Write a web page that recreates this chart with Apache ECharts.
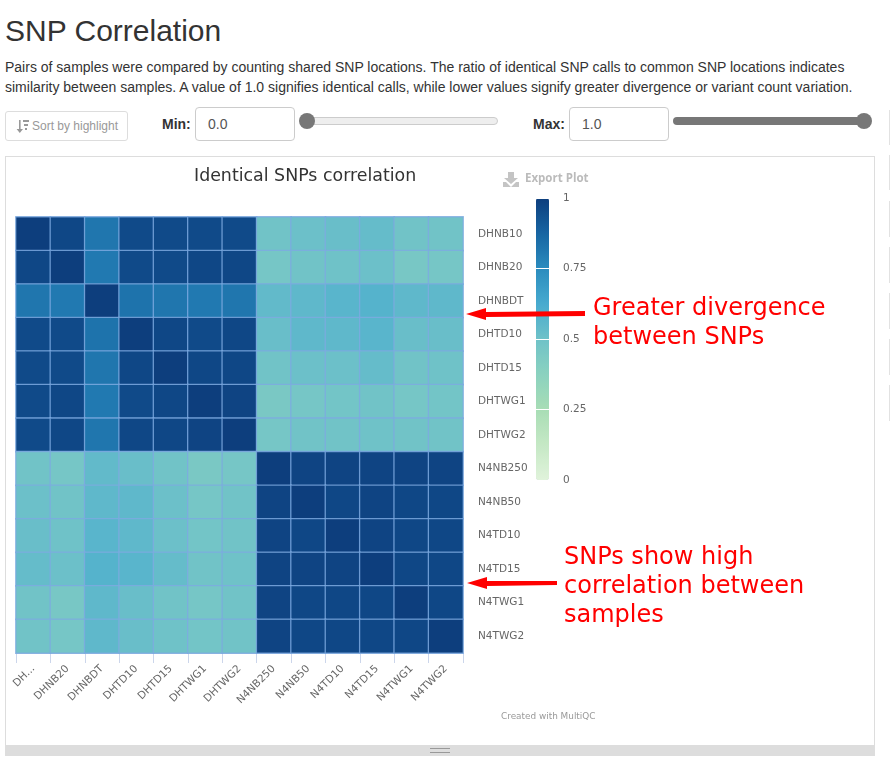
<!DOCTYPE html>
<html>
<head>
<meta charset="utf-8">
<title>SNP Correlation</title>
<script src="https://cdn.jsdelivr.net/npm/echarts@6/dist/echarts.min.js"></script>
<style>
html, body { margin: 0; padding: 0; background: #fff; overflow: hidden; }
body { width: 890px; height: 769px; position: relative; font-family: "Liberation Sans", Arial, sans-serif; color: #333; }
.abs { position: absolute; box-sizing: border-box; }
h1 { position: absolute; left: 5px; top: 13px; margin: 0; font-size: 30px; line-height: 36px; font-weight: 400; }
p { position: absolute; left: 5px; top: 57px; margin: 0; width: 880px; font-size: 14px; line-height: 20px; white-space: nowrap; }
.btn { left: 5px; top: 111px; width: 123px; height: 30px; border: 1px solid #ddd; border-radius: 3px; font-size: 12px; line-height: 28px; color: #999; padding-left: 26px; }
.lbl { top: 112px; font-size: 14px; font-weight: 700; line-height: 24px; }
.inp { top: 107px; width: 100px; height: 34px; border: 1px solid #ccc; border-radius: 4px; font-size: 14px; line-height: 32px; padding-left: 12px; color: #555; }
.track { top: 117px; height: 8px; border-radius: 4px; }
.thumb { top: 113px; width: 16px; height: 16px; border-radius: 8px; background: #777; }
.panel { left: 5px; top: 156px; width: 870px; height: 600px; border: 1px solid #ddd; }
.handle { left: 5px; top: 745px; width: 870px; height: 11px; background: #ddd; }
.edge { left: 889px; width: 1px; background: #e2e2e2; }
#main { position: absolute; left: 0; top: 0; width: 890px; height: 769px; }
</style>
</head>
<body>
<h1>SNP Correlation</h1>
<p>Pairs of samples were compared by counting shared SNP locations. The ratio of identical SNP calls to common SNP locations indicates<br>similarity between samples. A value of 1.0 signifies identical calls, while lower values signify greater divergence or variant count variation.</p>
<div class="abs btn">Sort by highlight
  <svg class="abs" style="left:10px;top:8px" width="13" height="13" viewBox="0 0 13 13"><path d="M3 0h1.6v9H7l-3.2 4L.6 9H3z" fill="#999"/><path d="M7 0h6v2H7zM8 4h4v2H8zM9 8h2v2H9z" fill="#999"/></svg>
</div>
<div class="abs lbl" style="left:162px">Min:</div>
<div class="abs inp" style="left:195px">0.0</div>
<div class="abs track" style="left:300px;width:198px;background:#eee;border:1px solid #ccc"></div>
<div class="abs thumb" style="left:299px"></div>
<div class="abs lbl" style="left:533px">Max:</div>
<div class="abs inp" style="left:569px">1.0</div>
<div class="abs track" style="left:673px;width:190px;background:#777"></div>
<div class="abs thumb" style="left:856px"></div>
<div class="abs panel"></div>
<div class="abs handle">
  <div class="abs" style="left:425px;top:3px;width:20px;height:5px;border-top:1px solid #999;border-bottom:1px solid #999"></div>
</div>
<div class="abs edge" style="top:110px;height:35px"></div>
<div class="abs edge" style="top:155px;height:35px"></div>
<div class="abs edge" style="top:201px;height:36px"></div>
<div class="abs edge" style="top:247px;height:36px"></div>
<div class="abs edge" style="top:293px;height:36px"></div>
<div class="abs edge" style="top:339px;height:36px"></div>
<div class="abs edge" style="top:385px;height:36px"></div>
<div id="main"></div>
<script>
var samples = ['DHNB10', 'DHNB20', 'DHNBDT', 'DHTD10', 'DHTD15', 'DHTWG1', 'DHTWG2',
    'N4NB250', 'N4NB50', 'N4TD10', 'N4TD15', 'N4TWG1', 'N4TWG2'];

// one row per sample
var correlation = [
    [1.00, 0.97, 0.82, 0.96, 0.96, 0.96, 0.96, 0.49, 0.51, 0.52, 0.53, 0.49, 0.49],
    [0.97, 1.00, 0.81, 0.96, 0.96, 0.97, 0.97, 0.47, 0.49, 0.50, 0.51, 0.46, 0.47],
    [0.82, 0.81, 1.00, 0.83, 0.82, 0.81, 0.82, 0.54, 0.55, 0.57, 0.58, 0.55, 0.55],
    [0.96, 0.96, 0.83, 1.00, 0.97, 0.96, 0.97, 0.52, 0.55, 0.55, 0.57, 0.52, 0.52],
    [0.96, 0.96, 0.82, 0.97, 1.00, 0.97, 0.97, 0.49, 0.51, 0.51, 0.53, 0.49, 0.50],
    [0.96, 0.97, 0.81, 0.96, 0.97, 1.00, 0.98, 0.45, 0.47, 0.48, 0.49, 0.47, 0.48],
    [0.96, 0.97, 0.82, 0.97, 0.97, 0.98, 1.00, 0.47, 0.49, 0.49, 0.50, 0.49, 0.49],
    [0.49, 0.47, 0.54, 0.52, 0.49, 0.45, 0.47, 1.00, 0.98, 0.98, 0.98, 0.98, 0.98],
    [0.51, 0.49, 0.55, 0.55, 0.51, 0.47, 0.49, 0.98, 1.00, 0.97, 0.98, 0.97, 0.97],
    [0.52, 0.50, 0.57, 0.55, 0.51, 0.48, 0.49, 0.98, 0.97, 1.00, 0.98, 0.97, 0.97],
    [0.53, 0.51, 0.58, 0.57, 0.53, 0.49, 0.50, 0.98, 0.98, 0.98, 1.00, 0.97, 0.97],
    [0.49, 0.46, 0.55, 0.52, 0.49, 0.47, 0.49, 0.98, 0.97, 0.97, 0.97, 1.00, 0.97],
    [0.49, 0.47, 0.55, 0.52, 0.50, 0.48, 0.49, 0.98, 0.97, 0.97, 0.97, 0.97, 1.00]
];

var scaleColors = ['#e0f3db', '#c5e8c5', '#a8ddb5', '#8bd2bf', '#6fc2c8', '#47aacf', '#2b8cbe', '#1765a2', '#0d3e7d'];

var cells = [];
correlation.forEach(function (row, y) {
    row.forEach(function (v, x) {
        cells.push([x, y, v]);
    });
});

var labelFont = 'DejaVu Sans';
var redFont = { font: '24px "DejaVu Sans"', fill: '#ff0000' };

var chart = echarts.init(document.getElementById('main'), null, { renderer: 'canvas' });
chart.setOption({
    animation: false,
    title: {
        text: 'Identical SNPs correlation',
        left: 189,
        top: 163,
        textStyle: { fontFamily: labelFont, fontSize: 17.4, fontWeight: 'normal', color: '#333' }
    },
    grid: [
        { left: 16, top: 217, width: 447, height: 436 },
        { left: 536, top: 198, width: 13, height: 282, z: 10 }
    ],
    xAxis: [
        {
            type: 'category', data: samples, gridIndex: 0, position: 'bottom',
            axisLine: { show: true, lineStyle: { color: '#ccd6eb' } },
            axisTick: { show: true, length: 10, alignWithLabel: false, lineStyle: { color: '#ccd6eb' } },
            axisLabel: {
                interval: 0, rotate: 45, margin: 14, fontSize: 10.5, fontFamily: labelFont, color: '#666',
                formatter: function (v, i) { return i === 0 ? 'DH...' : v; }
            },
            splitLine: { show: false }
        },
        {
            type: 'category', data: samples, gridIndex: 0, position: 'top',
            axisLine: { show: true, lineStyle: { color: '#d8d8d8', width: 1 } },
            axisTick: { show: false }, axisLabel: { show: false }
        },
        { type: 'category', data: ['scale'], gridIndex: 1, show: false }
    ],
    yAxis: [
        {
            type: 'category', data: samples, gridIndex: 0, inverse: true, position: 'right',
            axisLine: { show: false }, axisTick: { show: false },
            axisLabel: { interval: 0, margin: 15, fontSize: 10.5, fontFamily: labelFont, color: '#666' },
            splitLine: { show: false }
        },
        {
            type: 'value', gridIndex: 1, min: 0, max: 1, interval: 0.25, position: 'right', z: 10,
            axisLine: { show: false }, axisTick: { show: false },
            axisLabel: { margin: 14, fontSize: 10.5, fontFamily: labelFont, color: '#666' },
            splitLine: { show: true, lineStyle: { color: '#ffffff', width: 1 } }
        }
    ],
    visualMap: {
        min: 0, max: 1, seriesIndex: 0, calculable: false, orient: 'vertical',
        left: 536, top: 198, itemWidth: 13, itemHeight: 282, text: ['', ''], padding: 0,
        showLabel: false, hoverLink: false,
        inRange: { color: scaleColors }
    },
    series: [{
        type: 'heatmap',
        data: cells,
        xAxisIndex: 0,
        yAxisIndex: 0,
        silent: true,
        itemStyle: { borderWidth: 1.3, borderColor: 'rgba(125,170,225,0.8)' },
        emphasis: { disabled: true }
    }],
    graphic: [
        // export button
        { type: 'text', left: 525, top: 173, z: 20, style: { text: 'Export Plot', font: 'bold 11.5px "Open Sans"', fill: '#bbbbbb' } },
        { type: 'polygon', z: 20, shape: { points: [[508, 172], [514, 172], [514, 178], [518, 178], [511, 184], [504, 178], [508, 178]] }, style: { fill: '#c4c4c4' } },
        { type: 'polygon', z: 20, shape: { points: [[503, 182], [506, 182], [511, 187], [516, 182], [519, 182], [519, 187], [503, 187]] }, style: { fill: '#c4c4c4' } },
        { type: 'text', left: 501, top: 712, z: 20, style: { text: 'Created with MultiQC', font: '8.9px "DejaVu Sans"', fill: '#999999' } },
        // annotations
        { type: 'polygon', z: 30, shape: { points: [[585, 311], [585, 316], [486, 317], [486, 320], [466, 314], [486, 308], [486, 312]] }, style: { fill: '#ff0000' } },
        { type: 'polygon', z: 30, shape: { points: [[557, 581], [557, 585], [487, 586], [487, 589], [467, 583], [487, 577], [487, 581]] }, style: { fill: '#ff0000' } },
        { type: 'text', left: 593, top: 297, z: 30, style: { text: 'Greater divergence', font: redFont.font, fill: redFont.fill } },
        { type: 'text', left: 593, top: 326, z: 30, style: { text: 'between SNPs', font: redFont.font, fill: redFont.fill } },
        { type: 'text', left: 564, top: 546, z: 30, style: { text: 'SNPs show high', font: redFont.font, fill: redFont.fill } },
        { type: 'text', left: 564, top: 575, z: 30, style: { text: 'correlation between', font: redFont.font, fill: redFont.fill } },
        { type: 'text', left: 564, top: 604, z: 30, style: { text: 'samples', font: redFont.font, fill: redFont.fill } }
    ]
});
</script>
</body>
</html>
